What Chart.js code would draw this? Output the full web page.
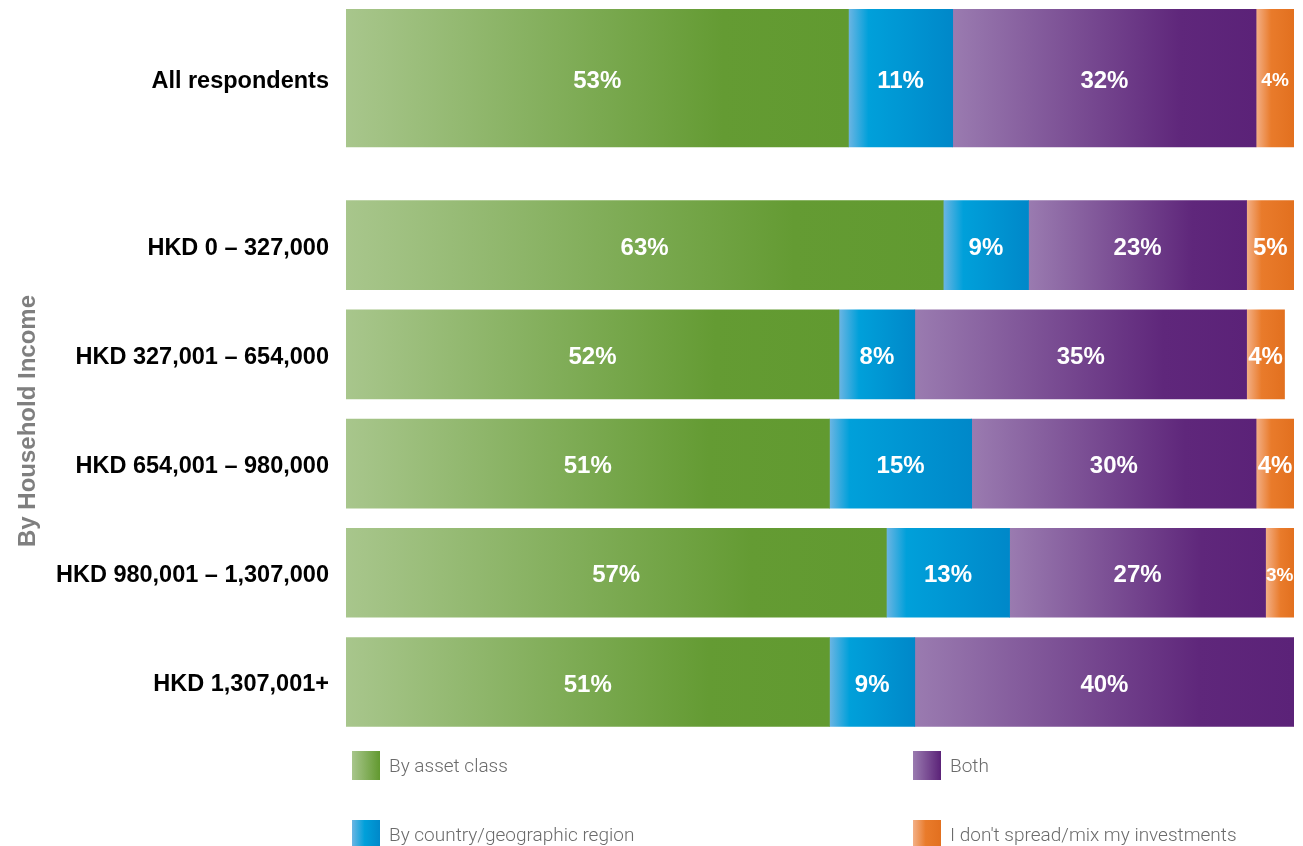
<!DOCTYPE html>
<html>
<head>
<meta charset="utf-8">
<script src="https://cdn.jsdelivr.net/npm/chart.js@4.4.1/dist/chart.umd.min.js"></script>
<style>
  html, body { margin: 0; padding: 0; background: #fff; }
  #wrap { position: relative; width: 1303px; height: 846px; overflow: hidden; }
  #legend .item {
    position: absolute; display: flex; align-items: center; height: 29px;
    font-family: Roboto, "Liberation Sans", sans-serif; font-weight: 300;
    font-size: 19px; color: #6b6b6b; white-space: nowrap;
  }
  #legend .sw { width: 28px; height: 29px; margin-right: 9px; flex: none; }
</style>
</head>
<body>
<div id="wrap">
  <canvas id="c" width="1303" height="846"></canvas>
  <div id="legend"></div>
</div>
<script>
// Rows: overall sample first, then household income bands
const rowLabels = [
  'All respondents',
  'HKD 0 \u2013 327,000',
  'HKD 327,001 \u2013 654,000',
  'HKD 654,001 \u2013 980,000',
  'HKD 980,001 \u2013 1,307,000',
  'HKD 1,307,001+'
];
const seriesNames = [
  'By asset class',
  'By country/geographic region',
  'Both',
  "I don't spread/mix my investments"
];
const assetClass = [53, 63, 52, 51, 57, 51];
const geoRegion  = [11,  9,  8, 15, 13,  9];
const both       = [32, 23, 35, 30, 27, 40];
const noSpread   = [ 4,  5,  4,  4,  3,  0];
const axisTitle = 'By Household Income';

const seriesValues = [assetClass, geoRegion, both, noSpread];

// Vertical layout: income rows are one unit apart, with extra space after the overall row
const GROUP_GAP = 0.53;
const rowPos = rowLabels.map((_, i) => (i === 0 ? 0 : i + GROUP_GAP));

// Horizontal gradient per series; `edge` (px) is where the light fade ends, or null for proportional stops
const palettes = [
  { flat: '#649b33', edge: null, stops: [[0, '#a8c68c'], [0.75, '#649b33'], [1, '#619a30']] },
  { flat: '#0090d0', edge: 20,   stops: [[0, '#6cb5e3'], ['edge', '#00a0da'], [1, '#0088c9']] },
  { flat: '#5f267b', edge: null, stops: [[0, '#9a7bb0'], [0.75, '#5f277b'], [1, '#5b2278']] },
  { flat: '#e5731f', edge: 15,   stops: [[0, '#f3b087'], ['edge', '#e97b2b'], [1, '#e2701f']] }
];

function segmentGradient(ctx, s, rowOf) {
  const chart = ctx.chart;
  const xs = chart.scales && chart.scales.x;
  const pal = palettes[s];
  if (!xs || !chart.chartArea || ctx.dataIndex === undefined) return pal.flat;
  const row = rowOf(ctx.dataIndex);
  let start = 0;
  for (let k = 0; k < s; k++) start += seriesValues[k][row];
  const x0 = xs.getPixelForValue(start);
  const x1 = xs.getPixelForValue(start + seriesValues[s][row]);
  const w = x1 - x0;
  if (w < 1) return pal.flat;
  const g = chart.ctx.createLinearGradient(x0, 0, x1, 0);
  pal.stops.forEach(([p, col]) => {
    const pos = p === 'edge' ? Math.min(pal.edge / w, 0.6) : p;
    g.addColorStop(pos, col);
  });
  return g;
}

// One dataset per series for the overall row (thicker bar) and one for the income rows
const datasets = [];
seriesNames.forEach((name, s) => {
  datasets.push({
    label: name,
    rowGroup: 'all',
    data: [{ x: seriesValues[s][0], y: rowPos[0] }],
    barThickness: 138,
    backgroundColor: (ctx) => segmentGradient(ctx, s, () => 0),
    stack: 'share'
  });
  datasets.push({
    label: name,
    rowGroup: 'income',
    data: rowPos.slice(1).map((p, i) => ({ x: seriesValues[s][i + 1], y: p })),
    barThickness: 89,
    backgroundColor: (ctx) => segmentGradient(ctx, s, (i) => i + 1),
    stack: 'share'
  });
});

// White percentage labels centred in each segment
const segmentLabels = {
  id: 'segmentLabels',
  afterDatasetsDraw(chart) {
    const c = chart.ctx;
    c.save();
    c.fillStyle = '#ffffff';
    c.textAlign = 'center';
    c.textBaseline = 'middle';
    chart.data.datasets.forEach((ds, di) => {
      const meta = chart.getDatasetMeta(di);
      meta.data.forEach((bar, i) => {
        const v = ds.data[i].x;
        if (!v) return;
        const w = Math.abs(bar.x - bar.base);
        const small = w < 32 || (ds.rowGroup === 'all' && v < 5);
        c.font = 'bold ' + (small ? 19 : 24) + 'px "Liberation Sans", Arial, sans-serif';
        c.fillText(v + '%', (bar.x + bar.base) / 2, bar.y + 3);
      });
    });
    c.restore();
  }
};

// Rotated group title beside the income rows
const groupTitle = {
  id: 'groupTitle',
  afterDraw(chart) {
    const c = chart.ctx;
    c.save();
    c.translate(28, 421);
    c.rotate(-Math.PI / 2);
    c.font = 'bold 24px "Liberation Sans", Arial, sans-serif';
    c.fillStyle = '#7f7f7f';
    c.textAlign = 'center';
    c.textBaseline = 'middle';
    c.fillText(axisTitle, 0, 0);
    c.restore();
  }
};

new Chart(document.getElementById('c'), {
  type: 'bar',
  data: { datasets },
  options: {
    indexAxis: 'y',
    responsive: false,
    animation: false,
    grouped: false,
    borderWidth: 0,
    layout: { padding: { top: 9, bottom: 119, left: 0, right: 9 } },
    plugins: { legend: { display: false }, tooltip: { enabled: false } },
    scales: {
      x: { type: 'linear', min: 0, max: 100, stacked: true, display: false },
      y: {
        type: 'linear',
        reverse: true,
        offset: false,
        min: -0.632,
        max: 5.942,
        stacked: true,
        afterBuildTicks(scale) { scale.ticks = rowPos.map((v) => ({ value: v })); },
        afterFit(scale) {
          scale.width = 346;
          scale.paddingTop = 0;
          scale.paddingBottom = 0;
        },
        grid: { display: false, drawTicks: false },
        border: { display: false },
        ticks: {
          autoSkip: false,
          padding: 17,
          labelOffset: 3,
          color: '#000000',
          font: { family: '"Liberation Sans", Arial, sans-serif', weight: 'bold', size: 23.5 },
          callback: (v, i) => rowLabels[i]
        }
      }
    }
  },
  plugins: [segmentLabels, groupTitle]
});

// Legend in two columns below the bars
const legendCss = [
  'linear-gradient(to right, #a8c68c, #62992f)',
  'linear-gradient(to right, #6cb5e3, #00a0da 45%, #0088c9)',
  'linear-gradient(to right, #9a7bb0, #5b2278)',
  'linear-gradient(to right, #f3b087, #e97b2b 45%, #e2701f)'
];
const legendSpots = [[352, 751], [352, 820], [913, 751], [913, 820]];
const legend = document.getElementById('legend');
seriesNames.forEach((name, s) => {
  const item = document.createElement('div');
  item.className = 'item';
  item.style.left = legendSpots[s][0] + 'px';
  item.style.top = legendSpots[s][1] + 'px';
  const sw = document.createElement('span');
  sw.className = 'sw';
  sw.style.background = legendCss[s];
  const tx = document.createElement('span');
  tx.textContent = name;
  item.appendChild(sw);
  item.appendChild(tx);
  legend.appendChild(item);
});
</script>
</body>
</html>
